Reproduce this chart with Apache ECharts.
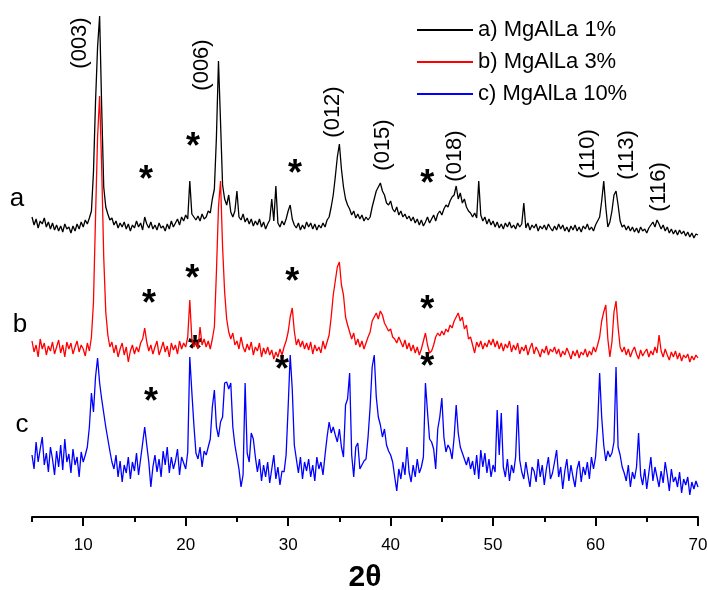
<!DOCTYPE html>
<html><head><meta charset="utf-8">
<script src="https://cdn.jsdelivr.net/npm/echarts@6/dist/echarts.min.js"></script>
<style>html,body{margin:0;padding:0;background:#fff}#c{width:707px;height:590px}</style>
</head><body><div id="c"></div>
<script>
// 2θ sampling of the digitised patterns
const thetaStart = 5, thetaStep = 0.2;
const seriesNames = ['a) MgAlLa 1%', 'b) MgAlLa 3%', 'c) MgAlLa 10%'];
const seriesColors = ['#000000', '#ff0000', '#0000ff'];

// a) MgAlLa 1% (stacked, offset intensity)
const intensityA = [
300,292,298,289,296, 293,299,290,295,288, 294,287,292,286,291, 285,293,288,290,284, 291,286,293,288,295,
290,297,293,299,306, 345,415,470,501,410, 330,310,303,297,299, 292,296,289,294,290, 295,288,293,286,292,
289,296,290,294,287, 300,293,289,295,288, 292,287,294,289,291, 286,293,288,296,290, 294,298,292,300,296,
302,298,336,303,300, 297,301,296,303,298, 300,306,304,318,328, 380,456,395,332,318, 312,322,305,300,306,
326,300,297,303,295, 299,293,298,291,296, 292,298,290,295,288, 293,297,318,296,331, 294,290,296,292,298,
306,312,298,292,289, 294,287,292,288,295, 290,294,288,293,287, 292,289,294,290,297, 300,310,322,340,360,
373,348,330,318,312, 308,302,306,299,303, 298,302,296,300,297, 300,310,318,326,330, 334,326,322,314,312,
316,308,305,310,302, 306,300,303,298,301, 296,300,294,298,292, 297,291,295,300,294, 298,302,296,303,306,
302,308,312,310,316, 320,322,331,318,324, 314,318,310,306,304, 300,304,299,336,302, 296,300,293,298,292,
296,290,295,289,293, 288,294,290,295,289, 292,288,294,290,293, 314,289,294,287,292, 289,293,286,291,288,
292,287,293,289,286, 291,287,293,288,292, 286,290,285,291,287, 292,286,290,285,291, 288,293,287,290,286,
292,296,300,316,336, 310,290,295,306,322, 326,312,296,290,292, 287,291,286,290,285, 289,284,290,286,288,
284,289,292,295,290, 297,293,288,292,286, 290,284,288,283,287, 282,287,283,286,281, 285,280,284,279,283,
282];

// b) MgAlLa 3%
const intensityB = [
176,165,172,160,178, 168,174,162,171,166, 175,163,170,177,164, 172,160,175,168,174, 163,170,176,165,172,
168,161,174,166,180, 215,300,380,421,350, 260,205,182,170,175, 164,172,160,168,174, 162,170,155,166,172,
163,170,165,174,178, 189,175,166,172,163, 170,176,162,168,175, 165,171,160,174,167, 172,163,176,168,174,
170,180,217,178,170, 175,168,190,172,178, 170,176,168,178,190, 245,310,336,270,225, 198,185,178,184,172,
176,168,180,170,165, 173,167,175,162,170, 166,174,160,169,163, 170,162,167,158,165, 160,168,162,170,176,
185,200,209,186,172, 178,170,176,168,174, 167,175,163,172,166, 170,164,176,168,175, 182,200,222,236,250,
255,232,222,200,192, 185,178,184,172,178, 170,176,168,174,180, 185,196,200,204,198, 206,202,194,190,186,
188,180,178,174,180, 175,170,177,168,174, 166,172,164,170,162, 168,176,184,172,164, 166,172,180,184,181,
186,182,188,185,192, 189,196,200,204,196, 200,188,192,178,180, 172,164,175,170,176, 168,174,170,177,172,
178,170,176,168,174, 166,173,169,176,165, 172,167,174,163,170, 166,172,162,169,174, 163,170,166,160,168,
164,171,162,168,165, 170,163,168,160,166, 162,169,164,158,166, 161,167,159,165,162, 168,160,166,162,170,
165,172,180,196,205, 212,178,160,175,205, 216,190,170,165,170, 162,168,160,166,170, 163,158,167,161,165,
168,160,166,162,170, 164,182,166,160,168, 162,157,165,160,166, 158,164,156,162,159, 163,155,161,157,162,
159];

// c) MgAlLa 10%
const intensityC = [
62,48,75,55,68, 80,52,64,45,70, 58,42,66,50,72, 47,78,55,63,44, 68,52,60,40,65,
55,62,70,90,124, 105,140,159,134,118, 104,90,78,66,55, 48,62,40,56,35, 52,44,60,38,55,
46,64,42,58,74, 90,72,55,30,50, 62,45,58,40,66, 52,70,44,60,48, 56,68,42,60,54,
48,65,160,125,92, 64,58,70,50,66, 62,70,78,110,127, 90,80,95,100,134, 135,128,134,90,72,
60,48,30,42,134, 64,55,84,78,60, 45,58,36,52,40, 55,34,48,62,38, 50,32,46,45,62,
110,162,128,72,58, 44,60,38,55,46, 58,40,52,36,60, 48,55,42,62,80, 95,84,90,82,75,
88,70,60,112,118, 144,62,40,70,74, 48,52,56,58,80, 110,150,162,120,100, 92,80,88,72,66,
62,55,40,26,48, 38,55,42,70,45, 35,52,40,58,44, 50,60,134,105,78, 75,68,48,88,100,
119,80,65,72,68, 58,80,112,84,70, 64,58,52,60,48, 56,42,62,38,67, 50,64,44,58,40,
52,45,107,62,104, 50,40,58,36,52, 44,60,112,57,45, 38,55,42,30,50, 46,35,58,40,52,
32,48,60,38,44, 55,67,40,50,28, 46,58,36,52,40, 30,48,56,35,50, 42,55,38,60,48,
60,90,144,100,72, 56,66,60,64,75, 150,70,62,50,44, 36,52,30,45,38, 50,84,42,32,48,
28,44,60,36,50, 40,30,46,34,55, 42,26,48,35,40, 30,45,24,38,32, 40,22,35,28,36,
30];

// axis ticks
const majorTicks = [10, 20, 30, 40, 50, 60, 70];
const minorTicks = [5, 15, 25, 35, 45, 55, 65];

// annotations (in data coordinates: 2θ, plotted intensity)
const peakLabels = ['(003)', '(006)', '(012)', '(015)', '(018)', '(110)', '(113)', '(116)'];
const peakLabelTheta = [9.69, 21.6, 34.4, 39.28, 46.3, 59.3, 63.1, 66.23];
const peakLabelLevel = [474, 452, 405, 372, 361, 363, 362, 330];
const starTheta = [16.13, 20.72, 30.68, 43.57, 16.43, 20.63, 30.39, 20.92, 29.41, 16.62, 43.57, 43.57];
const starLevel = [344, 377, 350, 340, 220, 245, 242, 174, 154, 122, 214, 157];
const sampleTags = ['a', 'b', 'c'];
const sampleTagTheta = [3.54, 3.83, 4.02];
const sampleTagLevel = [318, 192, 92];

const FONT = 'Liberation Sans, Arial, Helvetica, sans-serif';
const toPairs = arr => arr.map((v, i) => [+(thetaStart + i * thetaStep).toFixed(2), v]);
const allSeries = [intensityA, intensityB, intensityC];

const chart = echarts.init(document.getElementById('c'), null, {renderer: 'canvas'});
chart.setOption({
  backgroundColor: '#ffffff',
  animation: false,
  grid: {left: 32, right: 9, top: 0, bottom: 73, containLabel: false, outerBoundsMode: 'none'},
  legend: {
    orient: 'vertical', left: 412, top: 14, itemWidth: 56, itemHeight: 2, itemGap: 10,
    icon: 'rect', data: seriesNames,
    textStyle: {fontSize: 22, color: '#000', fontFamily: FONT}
  },
  xAxis: [{
    type: 'value', min: 5, max: 70, position: 'bottom',
    name: '2θ', nameLocation: 'middle', nameGap: 46,
    nameTextStyle: {fontSize: 30, fontWeight: 'bold', color: '#000', fontFamily: FONT},
    axisLine: {show: true, lineStyle: {color: '#000', width: 2}},
    axisTick: {show: true, customValues: majorTicks, length: 9, lineStyle: {color: '#000', width: 2}},
    axisLabel: {show: true, customValues: majorTicks, margin: 20, fontSize: 17, color: '#000', fontFamily: FONT},
    splitLine: {show: false}
  }, {
    type: 'value', min: 5, max: 70, position: 'bottom', offset: 0,
    axisLine: {show: false},
    axisTick: {show: true, customValues: minorTicks, length: 5, lineStyle: {color: '#000', width: 2}},
    axisLabel: {show: false},
    splitLine: {show: false}
  }],
  yAxis: {type: 'value', min: 0, max: 517, show: false, splitLine: {show: false}},
  series: allSeries.map((arr, k) => ({
    name: seriesNames[k], type: 'line', xAxisIndex: 0, data: toPairs(arr),
    showSymbol: false, symbol: 'none',
    lineStyle: {color: seriesColors[k], width: 1.3},
    itemStyle: {color: seriesColors[k]}
  }))
});

const px = (x, y) => chart.convertToPixel({xAxisIndex: 0, yAxisIndex: 0}, [x, y]);
const graphics = [];
peakLabels.forEach((t, i) => {
  const p = px(peakLabelTheta[i], peakLabelLevel[i]);
  graphics.push({type: 'text', x: p[0], y: p[1], rotation: Math.PI / 2,
    style: {text: t, x: 0, y: 0, align: 'center', verticalAlign: 'middle', fill: '#000', font: '22px ' + FONT}});
});
starTheta.forEach((x, i) => {
  const p = px(x, starLevel[i]);
  graphics.push({type: 'text', x: p[0], y: p[1] + 8,
    style: {text: '*', x: 0, y: 0, align: 'center', verticalAlign: 'middle', fill: '#000', font: 'bold 36px ' + FONT}});
});
sampleTags.forEach((t, i) => {
  const p = px(sampleTagTheta[i], sampleTagLevel[i]);
  graphics.push({type: 'text', x: p[0], y: p[1],
    style: {text: t, x: 0, y: 0, align: 'center', verticalAlign: 'middle', fill: '#000', font: '26px ' + FONT}});
});
chart.setOption({graphic: graphics});
</script></body></html>
